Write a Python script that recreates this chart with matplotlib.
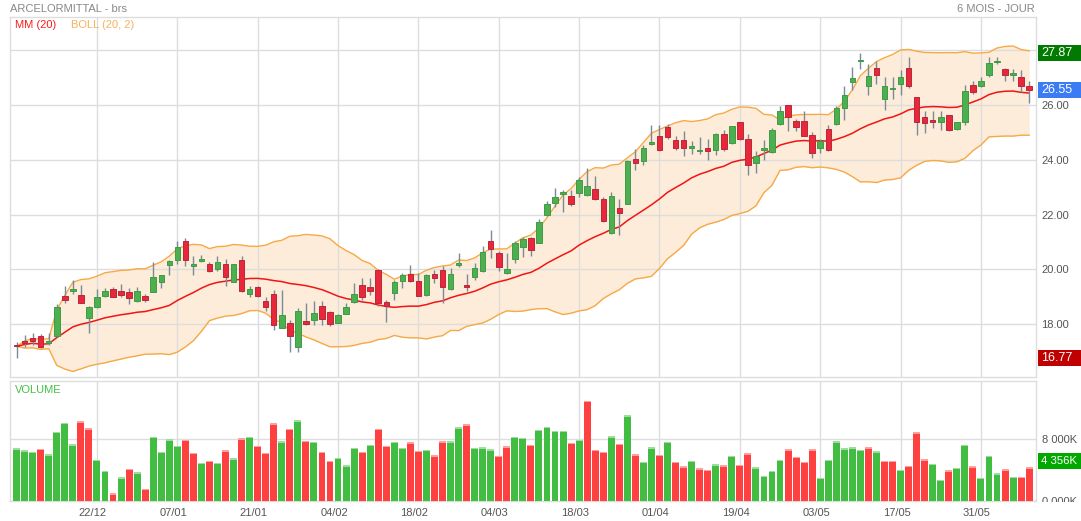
import numpy as np
import pandas as pd
import matplotlib
matplotlib.use("Agg")
import matplotlib.pyplot as plt
from matplotlib.patches import Rectangle
from matplotlib.transforms import blended_transform_factory, ScaledTranslation, Bbox, TransformedBbox

plt.rcParams['font.family'] = ['Liberation Sans', 'DejaVu Sans']

# cours journaliers (ouverture, plus haut, plus bas, cloture)
opens = [17.26, 17.41, 17.49, 17.59, 17.33, 17.58, 19.04, 19.22, 19.07, 18.22,
         18.64, 19.02, 19.27, 19.23, 19.16, 18.85, 19.04, 19.19, 19.53, 20.17,
         20.36, 21.04, 20.11, 20.30, 20.19, 20.00, 20.19, 19.56, 20.33, 19.10,
         19.37, 18.85, 19.10, 17.86, 18.06, 17.19, 18.11, 18.17, 18.67, 18.46,
         18.06, 18.38, 18.80, 19.45, 19.36, 19.98, 18.81, 19.14, 19.57, 19.82,
         19.57, 19.06, 19.82, 19.98, 19.30, 20.15, 19.42, 19.72, 19.94, 21.02,
         20.59, 19.88, 20.39, 20.82, 21.13, 20.98, 21.99, 22.43, 22.74, 22.67,
         22.77, 22.70, 22.94, 22.58, 21.31, 22.23, 22.39, 24.02, 23.95, 24.58,
         24.88, 25.18, 24.70, 24.72, 24.44, 24.30, 24.42, 24.35, 24.93, 24.59,
         25.37, 24.75, 23.88, 24.37, 24.28, 25.30, 26.00, 25.42, 25.42, 24.91,
         24.42, 25.12, 25.30, 25.90, 26.82, 27.59, 26.70, 27.33, 26.21, 26.57,
         26.75, 27.33, 26.28, 25.55, 25.45, 25.36, 25.64, 25.12, 25.36, 26.73,
         26.67, 27.07, 27.55, 27.31, 27.10, 27.00, 26.70]
highs = [17.36, 17.62, 17.68, 17.64, 17.70, 18.75, 19.41, 19.63, 19.44, 18.66,
         19.27, 19.33, 19.35, 19.47, 19.31, 19.35, 19.12, 20.28, 19.80, 20.33,
         21.02, 21.16, 20.48, 20.52, 20.27, 20.48, 20.38, 20.19, 20.48, 19.41,
         19.41, 18.98, 19.25, 19.25, 18.17, 18.58, 18.79, 18.85, 18.85, 18.48,
         18.38, 18.79, 19.51, 19.69, 19.69, 20.00, 18.90, 19.63, 19.88, 20.18,
         19.88, 19.82, 19.98, 20.12, 20.04, 20.61, 19.85, 20.25, 20.86, 21.44,
         20.67, 20.61, 21.04, 21.17, 21.17, 21.84, 22.48, 22.97, 22.88, 22.88,
         23.37, 23.68, 23.41, 22.64, 22.82, 22.55, 23.99, 24.39, 24.54, 25.28,
         25.28, 25.30, 24.88, 25.05, 24.69, 24.81, 24.76, 24.97, 25.09, 25.24,
         25.37, 24.93, 24.33, 24.73, 25.15, 25.96, 26.00, 25.49, 25.78, 25.00,
         24.75, 25.27, 25.94, 26.67, 27.39, 27.87, 27.48, 27.58, 27.03, 27.03,
         27.27, 27.76, 26.30, 25.76, 25.76, 25.76, 25.64, 25.37, 26.73, 26.85,
         27.03, 27.73, 27.76, 27.33, 27.31, 27.27, 26.87]
lows = [16.77, 17.17, 17.25, 17.12, 17.25, 17.55, 18.79, 19.10, 18.78, 17.67,
        18.60, 18.98, 18.98, 18.98, 18.73, 18.83, 18.83, 19.19, 19.31, 19.78,
        20.19, 20.11, 19.78, 20.26, 19.90, 19.96, 19.41, 19.53, 19.19, 19.00,
        19.00, 18.48, 17.80, 17.86, 17.00, 17.00, 17.99, 17.99, 17.99, 17.93,
        18.04, 18.36, 18.77, 18.90, 19.08, 18.65, 18.07, 18.90, 19.33, 19.55,
        19.02, 19.02, 19.51, 18.77, 19.26, 20.10, 19.20, 19.63, 19.90, 20.43,
        19.94, 19.85, 20.25, 20.47, 20.49, 20.96, 21.96, 22.27, 22.11, 22.31,
        22.63, 22.67, 22.54, 21.72, 21.29, 21.25, 22.37, 23.62, 23.80, 24.54,
        24.33, 24.76, 24.36, 24.15, 24.20, 24.20, 24.00, 24.18, 24.33, 24.57,
        24.73, 23.45, 23.52, 24.00, 24.24, 25.27, 25.05, 25.03, 24.85, 24.06,
        24.24, 24.33, 25.27, 25.45, 26.55, 27.31, 26.34, 26.75, 25.82, 26.22,
        26.36, 26.63, 24.91, 24.97, 25.15, 25.09, 25.05, 25.08, 25.27, 26.39,
        26.64, 27.03, 27.48, 26.87, 26.85, 26.48, 26.06]
closes = [17.20, 17.33, 17.40, 17.17, 17.36, 18.63, 18.89, 19.27, 18.78, 18.64,
          18.98, 19.20, 18.98, 19.06, 18.95, 19.20, 18.88, 19.74, 19.80, 20.31,
          20.81, 20.33, 20.19, 20.37, 19.93, 20.28, 19.72, 20.19, 19.22, 19.27,
          19.04, 18.63, 17.96, 18.33, 17.56, 18.48, 18.01, 18.42, 18.21, 18.02,
          18.33, 18.63, 19.12, 18.98, 19.20, 18.77, 18.65, 19.55, 19.78, 19.57,
          19.02, 19.78, 19.67, 19.35, 19.85, 20.22, 19.36, 20.04, 20.65, 20.76,
          20.10, 20.00, 20.96, 21.10, 20.71, 21.72, 22.39, 22.64, 22.82, 22.38,
          23.25, 23.04, 22.56, 21.78, 22.67, 22.05, 23.96, 23.89, 24.44, 24.66,
          24.36, 24.81, 24.44, 24.42, 24.50, 24.37, 24.30, 24.93, 24.39, 25.24,
          24.75, 23.79, 24.15, 24.40, 25.09, 25.76, 25.55, 25.19, 24.87, 24.24,
          24.67, 24.36, 25.88, 26.36, 26.98, 27.64, 27.05, 27.07, 26.69, 26.61,
          27.02, 26.70, 25.39, 25.32, 25.37, 25.56, 25.08, 25.37, 26.51, 26.45,
          26.87, 27.53, 27.60, 27.07, 27.12, 26.70, 26.55]

# volumes en milliers
volumes = [6826, 6565, 6391, 6739, 6043, 8957, 10130, 7348, 10348, 9435,
           5304, 3870, 957, 3043, 4130, 3696, 1522, 8304, 6348, 8000,
           7130, 7913, 6261, 4957, 5217, 4957, 6565, 5522, 8130, 8304,
           7130, 6217, 10087, 7739, 9348, 10478, 7783, 7652, 6348, 5174,
           5609, 4609, 6870, 6391, 7261, 9348, 7130, 7696, 6870, 7609,
           6478, 6652, 5913, 7739, 7739, 9565, 9957, 6870, 6957, 6696,
           5870, 7087, 8304, 8174, 7304, 9217, 9609, 9087, 9087, 7522,
           7913, 13043, 6609, 6348, 8391, 7391, 11130, 6043, 5043, 6957,
           6000, 7652, 5087, 4478, 5174, 4217, 4000, 4739, 4609, 5826,
           4652, 6174, 4348, 3261, 3913, 5304, 6696, 5696, 5043, 6696,
           2957, 5304, 7739, 6826, 6957, 6609, 6957, 6435, 5174, 5174,
           3999, 4522, 8913, 5391, 4826, 2739, 3957, 4304, 7304, 4478,
           2957, 5826, 3565, 4087, 3087, 3130, 4356]
vol_dir = ("GGGRGGGGRR" "GGRGRGRGGG" "GRRGRGRGRG" "RRRGRGRGRR" "GGGRGRRGGR"
           "RGRRGGRGGG" "RRGGRGGGGR" "GRRRGRGRGG" "RGRRGRRGRG" "RRGGGGRRRR"
           "GGGGGGRGRR" "GRRRGGRGGR" "GGGRGRR")

tick_pos = [10, 20, 30, 40, 50, 60, 70, 80, 90, 100, 110, 120]
tick_labels = ["22/12", "07/01", "21/01", "04/02", "18/02", "04/03",
               "18/03", "01/04", "19/04", "03/05", "17/05", "31/05"]

df = pd.DataFrame({"open": opens, "high": highs, "low": lows, "close": closes, "vol": volumes})
df["mm"] = df["close"].rolling(20, min_periods=1).mean()
sd = df["close"].rolling(20, min_periods=1).std(ddof=0).fillna(0)
df["up"] = df["mm"] + 2 * sd
df["dn"] = df["mm"] - 2 * sd
x = np.arange(len(df))

W, H = 1081, 521
fig = plt.figure(figsize=(W / 100, H / 100), dpi=100)
ax = fig.add_axes([10 / W, 1 - 377 / H, 1026 / W, 360 / H])
axv = fig.add_axes([10 / W, 1 - 500.7 / H, 1026 / W, 119.7 / H])

grid_c = "#dddddd"
green, red = "#4caf50", "#e8283a"
green_e, red_e = "#3f9a45", "#b8283a"

# bandes de bollinger + moyenne mobile
ax.fill_between(x, df["dn"], df["up"], color="#fdecd9", lw=0, zorder=0.3)
ax.plot(x, df["up"], color="#f6a945", lw=1, zorder=2)
ax.plot(x, df["dn"], color="#f6a945", lw=1, zorder=2)
ax.plot(x, df["mm"], color="#f21414", lw=1.1, zorder=2)

# bougies
up = df["close"] >= df["open"]
ax.vlines(x, df["low"], df["high"], color="#7b8a99", lw=1, zorder=3)
body = (df["close"] - df["open"]).abs().clip(lower=0.05)
bottom = df[["open", "close"]].min(axis=1)
ax.bar(x, body, bottom=bottom, width=0.68, color=np.where(up, green, red),
       edgecolor=np.where(up, green_e, red_e), linewidth=0.7, zorder=4)

ax.set_xlim(-0.82, 126.85)
ax.set_ylim(16.08, 29.2)
ax.set_yticks([18, 20, 22, 24, 26, 28])
ax.set_yticklabels(["18.00", "20.00", "22.00", "24.00", "26.00", "28.00"])
ax.set_xticks(tick_pos)
ax.yaxis.tick_right()
ax.tick_params(axis="y", length=0, pad=4, labelsize=8, labelcolor="#555555")
ax.tick_params(axis="x", length=0, labelbottom=False)
ax.grid(True, color=grid_c, lw=1)
ax.set_axisbelow(True)

# volumes (avec liseré clair en haut)
vcol = ["#41bd41" if d == "G" else "#ff4040" for d in vol_dir]
vtop = ["#9fdc9f" if d == "G" else "#ffa0a0" for d in vol_dir]
axv.bar(x, df["vol"], width=0.86, color=vcol, zorder=3)
strip = 190
axv.bar(x, strip, bottom=df["vol"] - strip, width=0.86, color=vtop, zorder=3.5)
axv.set_xlim(-0.82, 126.85)
axv.set_ylim(0, 15600)
axv.set_yticks([0, 8000])
axv.set_yticklabels(["0 000K", "8 000K"])
axv.set_xticks(tick_pos)
axv.set_xticklabels(tick_labels)
axv.yaxis.tick_right()
axv.tick_params(axis="y", length=0, pad=4, labelsize=8, labelcolor="#555555")
axv.tick_params(axis="x", length=0, pad=5, labelsize=8, labelcolor="#555555")
axv.grid(True, color=grid_c, lw=1)
axv.set_axisbelow(True)
for lab in axv.get_xticklabels():
    lab.set_transform(lab.get_transform() + ScaledTranslation(-4 / 100, 0, fig.dpi_scale_trans))
clipbox = TransformedBbox(Bbox([[0, 1 - 502 / H], [1, 1]]), fig.transFigure)
for lab in axv.get_yticklabels():
    lab.set_clip_box(clipbox)
    lab.set_clip_on(True)

for a in (ax, axv):
    for s in a.spines.values():
        s.set_color(grid_c)
        s.set_linewidth(1)

# etiquettes de valeurs a droite
def value_box(a, val, txt, col, px_per_unit, fs):
    tr = blended_transform_factory(fig.transFigure, a.transData)
    h = 16 / px_per_unit
    fig.add_artist(Rectangle((1038 / W, val - h / 2), 43 / W, h, transform=tr,
                             facecolor=col, edgecolor="none", zorder=10))
    fig.text(1041 / W, val, txt, transform=tr, va="center", ha="left",
             color="white", fontsize=fs, zorder=11)

value_box(ax, 27.87, "27.87", "#007a00", 27.43, 9)
value_box(ax, 26.55, "26.55", "#3b7cf4", 27.43, 9)
value_box(ax, 16.77, "16.77", "#c00000", 27.43, 9)
value_box(axv, 4356 + 800, "4 356K", "#00a800", 61.4 / 8000, 8.2)

fig.text(10 / W, 1 - 9 / H, "ARCELORMITTAL - brs", va="center", ha="left",
         color="#888888", fontsize=8)
fig.text(1035 / W, 1 - 9 / H, "6 MOIS - JOUR", va="center", ha="right",
         color="#888888", fontsize=8)
fig.text(15 / W, 1 - 25 / H, "MM (20)", va="center", ha="left", color="#ff1a1a", fontsize=8)
fig.text(71 / W, 1 - 25 / H, "BOLL (20, 2)", va="center", ha="left", color="#f7b25c", fontsize=8)
fig.text(15 / W, 1 - 390 / H, "VOLUME", va="center", ha="left", color="#45c045", fontsize=8)

fig.savefig("out.png", dpi=100)
